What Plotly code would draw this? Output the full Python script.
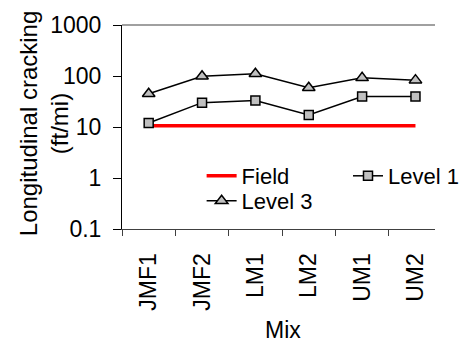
import plotly.graph_objects as go

mixes = ["JMF1", "JMF2", "LM1", "LM2", "UM1", "UM2"]
field = [10.6, 10.6, 10.6, 10.6, 10.6, 10.6]
level1 = [12, 30, 33, 17.2, 39.5, 39.5]
level3 = [45, 99, 111, 59, 92, 83]

y_tickvals = [0.1, 1, 10, 100, 1000]
y_ticktext = ["0.1", "1", "10", "100", "1000"]

FONT = "Liberation Sans, Arial, sans-serif"
FS = 23

fig = go.Figure()
fig.add_trace(go.Scatter(
    x=mixes, y=field, name="Field", mode="lines",
    line=dict(color="#FF0000", width=3.5), legend="legend"))
fig.add_trace(go.Scatter(
    x=mixes, y=level1, name="Level 1", mode="lines+markers",
    line=dict(color="black", width=1.5),
    marker=dict(symbol="square", size=9, color="#C0C0C0",
                line=dict(color="black", width=1.5)), legend="legend2"))
fig.add_trace(go.Scatter(
    x=mixes, y=level3, name="Level 3", mode="lines+markers",
    line=dict(color="black", width=1.5),
    marker=dict(symbol="triangle-up", size=11, color="#C0C0C0",
                line=dict(color="black", width=1.5)), legend="legend3"))

W, H = 464, 345
ML, MR, MT, MB = 122, 0, 25, 116
pw = W - ML - MR
ph = H - MT - MB

def px_x(p):
    return (p - ML) / pw

def px_y(p):
    return (H - MB - p) / ph

def leg(xp, yp):
    return dict(orientation="h", x=px_x(xp), xanchor="left",
                y=px_y(yp), yanchor="middle",
                bgcolor="rgba(0,0,0,0)", font=dict(size=22))

fig.update_layout(
    width=W, height=H,
    margin=dict(l=ML, r=MR, t=MT, b=MB),
    paper_bgcolor="white", plot_bgcolor="white",
    font=dict(family=FONT, size=FS, color="black"),
    showlegend=True,
    legend=leg(209, 176),
    legend2=leg(369, 176),
    legend3=leg(209, 201),
)

fig.update_xaxes(
    type="category", range=[-0.5, 5.366], tickson="boundaries",
    ticks="outside", ticklen=6, tickcolor="#404040", tickwidth=1,
    showline=True, linecolor="#404040", linewidth=1,
    showgrid=False, zeroline=False, tickangle=-90,
    ticklabelstandoff=14, tickfont=dict(size=FS))
fig.update_yaxes(
    type="log", range=[-1, 3], tickvals=y_tickvals, ticktext=y_ticktext,
    ticks="outside", ticklen=8, tickcolor="black", tickwidth=1,
    showline=True, linecolor="black", linewidth=1,
    showgrid=False, zeroline=False, tickfont=dict(size=FS),
    ticklabelstandoff=7)

fig.add_shape(type="line", xref="paper", yref="paper", x0=0, x1=1, y0=1, y1=1,
              line=dict(color="#808080", width=1.5))

fig.add_annotation(text="Longitudinal cracking<br>(ft/mi)", textangle=-90,
                   xref="paper", yref="paper", x=px_x(37), y=px_y(124),
                   xanchor="center", yanchor="middle", showarrow=False,
                   font=dict(size=24))
fig.add_annotation(text="Mix", xref="paper", yref="paper",
                   x=px_x(297.5), y=px_y(330), xanchor="center", yanchor="middle",
                   showarrow=False, font=dict(size=FS))

fig.write_html("out.html")
